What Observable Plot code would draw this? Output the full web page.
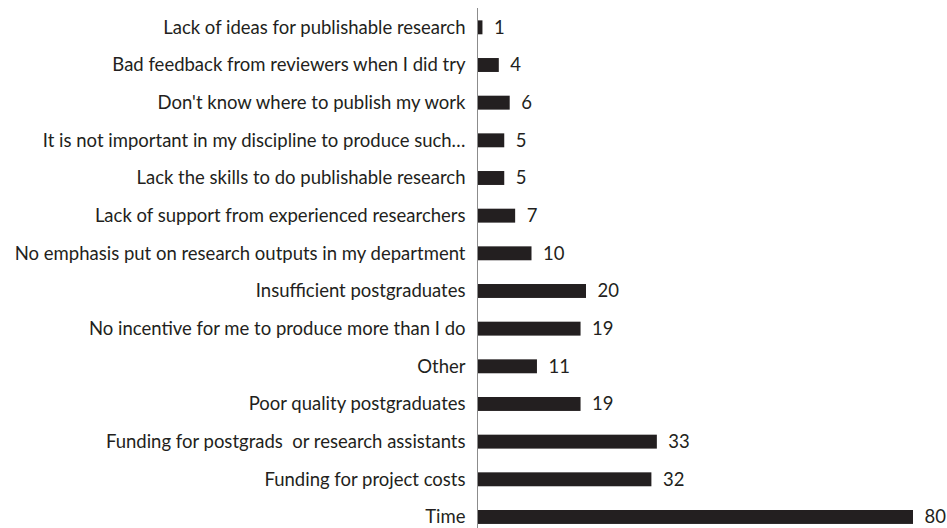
<!DOCTYPE html>
<html>
<head>
<meta charset="utf-8">
<script src="https://cdn.jsdelivr.net/npm/d3@7"></script>
<script src="https://cdn.jsdelivr.net/npm/@observablehq/plot@0.6"></script>
<style>
  html, body { margin: 0; padding: 0; background: #fff; }
  #chart svg { display: block; }
</style>
</head>
<body>
<div id="chart"></div>
<script>
const categories = [
  "Lack of ideas for publishable research",
  "Bad feedback from reviewers when I did try",
  "Don't know where to publish my work",
  "It is not important in my discipline to produce such…",
  "Lack the skills to do publishable research",
  "Lack of support from experienced researchers",
  "No emphasis put on research outputs in my department",
  "Insufficient postgraduates",
  "No incentive for me to produce more than I do",
  "Other",
  "Poor quality postgraduates",
  "Funding for postgrads  or research assistants",
  "Funding for project costs",
  "Time"
];
const values = [1, 4, 6, 5, 5, 7, 10, 20, 19, 11, 19, 33, 32, 80];

const data = categories.map((c, i) => ({category: c, value: values[i]}));

const chart = Plot.plot({
  width: 947,
  height: 528,
  marginLeft: 477,
  marginRight: 34,
  marginTop: 8,
  marginBottom: 0,
  style: {fontFamily: "Lato, sans-serif", fontSize: "18.5px", color: "#231f20", background: "#fff"},
  x: {domain: [0, 80], axis: null},
  y: {domain: categories, range: [8.5, 535.8], round: false, paddingInner: 0.63, paddingOuter: 0.315, label: null, tickSize: 0, tickPadding: 12},
  marks: [
    Plot.barX(data, {x: "value", y: "category", fill: "#231f20"}),
    Plot.text(data, {x: "value", y: "category", text: d => String(d.value), textAnchor: "start", dx: 11, fill: "#231f20", fontSize: 18.5}),
    Plot.ruleX([0], {stroke: "#8c8c8c", strokeWidth: 1})
  ]
});
document.getElementById("chart").appendChild(chart);
</script>
</body>
</html>
